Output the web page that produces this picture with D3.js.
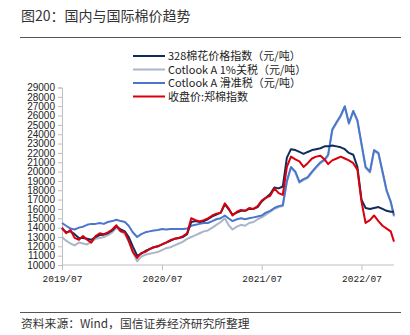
<!DOCTYPE html>
<html><head><meta charset="utf-8">
<script src="https://cdn.jsdelivr.net/npm/d3@7"></script>
<style>
html,body{margin:0;padding:0;background:#fff;}
svg{display:block;}
</style></head>
<body>
<svg id="chart" width="410" height="335"></svg>
<script>
// ---- data (semi-monthly, from 2019-07-01) ----
const startDate = "2019-07-01";
const endDate = "2022-10-28";
const xTickLabels = ["2019/07", "2020/07", "2021/07", "2022/07"];
const yTicks = [10000,11000,12000,13000,14000,15000,16000,17000,18000,19000,20000,21000,22000,23000,24000,25000,26000,27000,28000,29000];
const seriesNames = ["328棉花价格指数（元/吨）", "Cotlook A 1%关税（元/吨）", "Cotlook A 滑准税（元/吨）", "收盘价:郑棉指数"];

const index328 = [13900,13500,13600,13300,12900,12900,12800,12700,13000,13200,13250,13400,13700,14150,13800,13600,13000,12000,11000,11200,11500,11700,11900,12000,12200,12400,12600,12800,12900,13000,13300,14600,14700,14600,14700,14900,15200,15400,15600,16500,16000,15400,15600,15800,15800,16000,16000,16200,16800,17200,17600,18300,18200,18400,21500,22400,22300,22100,21900,22100,22300,22400,22500,22700,22700,22800,22700,22600,22400,22000,21800,20500,17000,16100,16000,16100,16200,16000,15800,15700,15700];
const cotlook1 = [13000,12600,12300,12100,12400,12300,12200,12500,12800,12900,13000,13200,13500,14000,13600,13300,12500,11400,10400,10900,11100,11200,11300,11400,11600,11800,11900,12100,12300,12500,12800,13000,13200,13400,13600,13700,14000,14300,14600,15000,14300,13800,14100,14300,14200,14500,14600,14900,15100,15400,15700,16000,16200,16300,18900,20400,19900,18800,19100,19300,19900,20400,20900,21200,21700,24400,25200,25900,26900,25100,26400,25400,22900,20400,19900,22200,21900,19900,17900,16700,15200];
const cotlookSlide = [14500,14200,13900,13800,14000,14100,14300,14400,14400,14500,14400,14600,14700,14850,14700,14600,14200,13500,13000,13300,13500,13600,13700,13750,13850,13800,13850,13850,13850,13850,13900,14200,14300,14400,14500,14500,14700,14900,15000,15300,15000,14700,14900,15000,14900,15000,15100,15200,15300,15600,15800,16100,16300,16400,19000,20500,20000,18900,19200,19400,20000,20500,21000,21300,21800,24500,25300,26000,27000,25200,26500,25500,23000,20500,20000,22300,22000,20000,18000,16800,15300];
const zhengzhou = [14000,13400,13740,12900,12700,13100,12700,12400,13100,13400,13300,13500,13800,14250,13600,13500,12600,11400,10750,11300,11400,11700,11900,12000,12200,12400,12670,12800,12900,13100,13400,15000,14800,14650,14800,15000,15300,15500,15600,16600,16100,15300,15700,15900,15800,16100,16000,16300,16900,17200,17400,18200,17700,17500,20500,21600,21300,21100,20500,20900,21400,21600,21700,21300,20800,21200,21400,21600,21400,21200,20900,20200,16800,14500,14800,15300,14700,14200,13900,13600,12500];

const parse = d3.timeParse("%Y-%m-%d");
// 1st and 16th of each month; the last point is endDate
const dts = index328.map((_, i) => i === index328.length - 1 ? parse(endDate) : new Date(2019, 6 + Math.floor(i/2), i % 2 === 0 ? 1 : 16));

const svg = d3.select("#chart");
const x = d3.scaleTime().domain([parse(startDate), parse(endDate)]).range([62, 394]);
const y = d3.scaleLinear().domain([10000, 29000]).range([265, 87.5]);

// title
svg.append("text").attr("x", 21).attr("y", 21)
  .attr("font-family", "'Noto Sans CJK SC', sans-serif").attr("font-size", 14).attr("fill", "#333")
  .text("图20：国内与国际棉价趋势");
svg.append("line").attr("x1", 20).attr("x2", 401).attr("y1", 37.5).attr("y2", 37.5)
  .attr("stroke", "#555").attr("stroke-width", 1);

// footer
svg.append("line").attr("x1", 20).attr("x2", 401).attr("y1", 312.5).attr("y2", 312.5)
  .attr("stroke", "#555").attr("stroke-width", 1);
svg.append("text").attr("x", 21).attr("y", 328)
  .attr("font-family", "'Noto Sans CJK SC', sans-serif").attr("font-size", 11.8).attr("fill", "#333")
  .text("资料来源：Wind，国信证券经济研究所整理");

// y axis
const yAxis = d3.axisLeft(y).tickValues(yTicks).tickSize(4).tickPadding(3).tickFormat(d3.format("d"));
const gy = svg.append("g").attr("transform", "translate(62,0)").call(yAxis);
gy.select(".domain").attr("stroke", "#bfbfbf");
gy.selectAll(".tick line").attr("stroke", "#bfbfbf");
gy.selectAll("text").attr("font-family", "'Liberation Sans', Arial, sans-serif").attr("font-size", 10).attr("fill", "#222");

// x axis
const xTickDates = xTickLabels.map(s => d3.timeParse("%Y/%m")(s));
const xAxis = d3.axisBottom(x).tickValues(xTickDates).tickSize(5).tickPadding(5)
  .tickFormat((d, i) => xTickLabels[i]);
const gx = svg.append("g").attr("transform", "translate(0,265)").call(xAxis);
gx.select(".domain").attr("stroke", "#bfbfbf").attr("d", "M62,0H394");
gx.selectAll(".tick line").attr("stroke", "#bfbfbf");
gx.selectAll("text").attr("font-family", "'Liberation Mono', monospace").attr("font-size", 9.5).attr("fill", "#222");

// lines
const colors = ["#0f2d5c", "#a8b6c8", "#4a77cc", "#d9000d"];
const seriesData = [index328, cotlook1, cotlookSlide, zhengzhou];
const line = d3.line().x((d, i) => x(dts[i])).y(d => y(d));
const drawOrder = [1, 2, 0, 3];
drawOrder.forEach(k => {
  svg.append("path").datum(seriesData[k]).attr("d", line)
    .attr("fill", "none").attr("stroke", colors[k]).attr("stroke-width", 2)
    .attr("stroke-linejoin", "round");
});

// legend
const legY = [56, 69.5, 83, 96.5];
seriesNames.forEach((n, i) => {
  svg.append("line").attr("x1", 133).attr("x2", 165).attr("y1", legY[i]).attr("y2", legY[i])
    .attr("stroke", colors[i]).attr("stroke-width", 2);
  svg.append("text").attr("x", 168).attr("y", legY[i] + 4)
    .attr("font-family", "'Noto Sans CJK SC', sans-serif").attr("font-size", 11).attr("fill", "#222")
    .text(n);
});
</script>
</body></html>
